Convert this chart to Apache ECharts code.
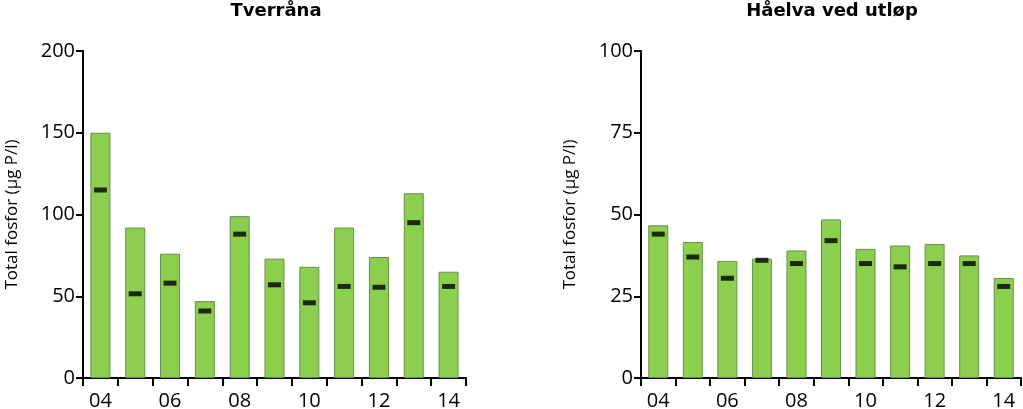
<!DOCTYPE html>
<html>
<head>
<meta charset="utf-8">
<script src="https://cdn.jsdelivr.net/npm/echarts@6/dist/echarts.min.js"></script>
<style>
html,body{margin:0;padding:0;background:#fff;}
#chart{width:1023px;height:409px;}
</style>
</head>
<body>
<div id="chart"></div>
<script>
const years = ['04','05','06','07','08','09','10','11','12','13','14'];
const titles = ['Tverråna', 'Håelva ved utløp'];
const yName = 'Total fosfor (µg P/l)';
const tverranaBar = [150, 92, 76, 47, 99, 73, 68, 92, 74, 113, 65];
const tverranaMark = [115, 51.5, 58, 41, 88, 57, 46, 56, 55.5, 95, 56];
const haelvaBar = [46.7, 41.6, 35.8, 36.5, 39, 48.5, 39.5, 40.5, 41, 37.5, 30.6];
const haelvaMark = [44, 37, 30.5, 36, 35, 42, 35, 34, 35, 35, 28];
const yMax = [200, 100];
const yInterval = [50, 25];

const FONT = '"Open Sans", "Liberation Sans", sans-serif';
const chart = echarts.init(document.getElementById('chart'), null, {renderer: 'canvas'});

const grids = [
  {left: 83, width: 383, top: 51, height: 327, containLabel: false, outerBoundsMode: 'none'},
  {left: 641, width: 380, top: 51, height: 327, containLabel: false, outerBoundsMode: 'none'}
];

function xAxis(i) {
  return {
    type: 'category', gridIndex: i, data: years,
    boundaryGap: true,
    axisLine: {lineStyle: {color: '#000', width: 2}},
    axisTick: {show: true, length: 8, interval: 0, lineStyle: {color: '#000', width: 2}},
    axisLabel: {interval: 1, color: '#000', fontFamily: FONT, fontSize: 20, margin: 13}
  };
}
function yAxis(i) {
  return {
    type: 'value', gridIndex: i, min: 0, max: yMax[i], interval: yInterval[i],
    name: yName, nameLocation: 'middle', nameGap: 62,
    nameTextStyle: {color: '#000', fontFamily: FONT, fontSize: 17},
    axisLine: {show: true, lineStyle: {color: '#000', width: 2}},
    axisTick: {show: true, length: 7, lineStyle: {color: '#000', width: 2}},
    axisLabel: {color: '#000', fontFamily: FONT, fontSize: 20, margin: 8},
    splitLine: {show: false}
  };
}
function barSeries(i, data) {
  return {
    type: 'bar', xAxisIndex: i, yAxisIndex: i, data: data, barWidth: 20,
    itemStyle: {color: '#8ccf4f', borderColor: '#6a8f4a', borderWidth: 1},
    silent: true
  };
}
function markSeries(i, data) {
  return {
    type: 'scatter', xAxisIndex: i, yAxisIndex: i, data: data,
    symbol: 'rect', symbolSize: [13, 5],
    itemStyle: {color: '#000'}, z: 5, silent: true
  };
}

const titleStyle = {fontFamily: '"DejaVu Sans", sans-serif', fontWeight: 'bold', fontSize: 18, color: '#000'};
chart.setOption({
  animation: false,
  title: [
    {text: titles[0], left: 271, top: -3, textAlign: 'center', textStyle: titleStyle},
    {text: titles[1], left: 827, top: -3, textAlign: 'center', textStyle: titleStyle}
  ],
  grid: grids,
  xAxis: [xAxis(0), xAxis(1)],
  yAxis: [yAxis(0), yAxis(1)],
  series: [
    barSeries(0, tverranaBar), markSeries(0, tverranaMark),
    barSeries(1, haelvaBar), markSeries(1, haelvaMark)
  ]
});
</script>
</body>
</html>
